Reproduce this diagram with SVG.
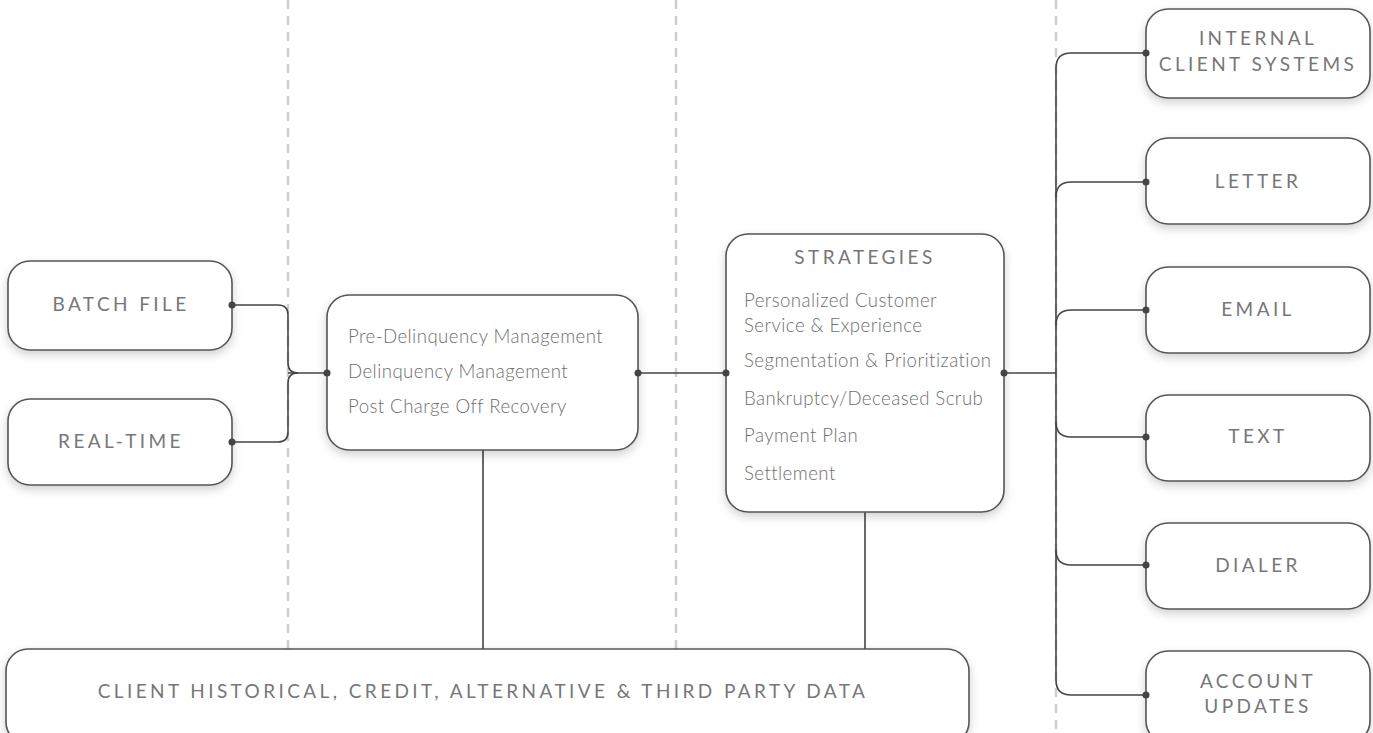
<svg xmlns="http://www.w3.org/2000/svg" width="1373" height="733" viewBox="0 0 1373 733">
  <defs>
    <filter id="shadow" x="-10%" y="-20%" width="120%" height="150%">
      <feDropShadow dx="0" dy="4" stdDeviation="5" flood-color="#000" flood-opacity="0.18"/>
    </filter>
    <style>
      .box { fill: #fff; stroke: #555; stroke-width: 1.6; filter: url(#shadow); }
      .lane { stroke: #cfcfcf; stroke-width: 2.5; stroke-dasharray: 9 7; fill: none; }
      .wire { stroke: #444; stroke-width: 1.6; fill: none; }
      .dot { fill: #444; }
      .cap { font-family: Lato, "Open Sans", sans-serif; font-size: 19px; letter-spacing: 3.4px; fill: #777; text-anchor: middle; }
      .body { font-family: Lato, "Open Sans", sans-serif; font-size: 18.6px; letter-spacing: 0.45px; font-weight: 300; fill: #6e6e6e; }
    </style>
  </defs>

  <rect width="1373" height="733" fill="#fff"/>

  <!-- swim-lane separators -->
  <g id="lanes">
    <line class="lane" x1="288" y1="0" x2="288" y2="733"/>
    <line class="lane" x1="676" y1="0" x2="676" y2="733"/>
    <line class="lane" x1="1056" y1="0" x2="1056" y2="733"/>
  </g>

  <!-- connectors -->
  <g id="connectors">
    <path class="wire" d="M232,305 H278 Q288,305 288,315 V363 Q288,373 298,373"/>
    <path class="wire" d="M232,442 H278 Q288,442 288,432 V383 Q288,373 298,373"/>
    <path class="wire" d="M288,373 H327"/>
    <path class="wire" d="M638,373 H726"/>
    <path class="wire" d="M483,450 V650"/>
    <path class="wire" d="M865,512 V650"/>
    <path class="wire" d="M1004,373 H1056"/>
    <path class="wire" d="M1146,53 H1071 Q1056,53 1056,68 V680 Q1056,695 1071,695 H1146"/>
    <path class="wire" d="M1056,197 Q1056,182 1071,182 H1146"/>
    <path class="wire" d="M1056,325 Q1056,310 1071,310 H1146"/>
    <path class="wire" d="M1056,422 Q1056,437 1071,437 H1146"/>
    <path class="wire" d="M1056,550 Q1056,565 1071,565 H1146"/>
  </g>

  <g id="batch-file">
    <rect class="box" x="8" y="261" width="224" height="89" rx="22"/>
    <text class="cap" x="121" y="311">BATCH FILE</text>
  </g>

  <g id="real-time">
    <rect class="box" x="8" y="399" width="224" height="86" rx="22"/>
    <text class="cap" x="121" y="448">REAL-TIME</text>
  </g>

  <g id="management">
    <rect class="box" x="327" y="295" width="311" height="155" rx="22"/>
    <text class="body" x="348" y="343">Pre-Delinquency Management</text>
    <text class="body" x="348" y="378">Delinquency Management</text>
    <text class="body" x="348" y="413">Post Charge Off Recovery</text>
  </g>

  <g id="strategies">
    <rect class="box" x="726" y="234" width="278" height="278" rx="22"/>
    <text class="cap" x="865" y="264">STRATEGIES</text>
    <text class="body" x="744" y="307">Personalized Customer</text>
    <text class="body" x="744" y="332">Service &amp; Experience</text>
    <text class="body" x="744" y="367">Segmentation &amp; Prioritization</text>
    <text class="body" x="744" y="405">Bankruptcy/Deceased Scrub</text>
    <text class="body" x="744" y="442">Payment Plan</text>
    <text class="body" x="744" y="480">Settlement</text>
  </g>

  <g id="client-data">
    <rect class="box" x="6" y="649" width="963" height="95" rx="22"/>
    <text class="cap" x="483" y="698">CLIENT HISTORICAL, CREDIT, ALTERNATIVE &amp; THIRD PARTY DATA</text>
  </g>

  <g id="internal-client-systems">
    <rect class="box" x="1146" y="9" width="224" height="89" rx="22"/>
    <text class="cap" x="1258" y="45">INTERNAL</text>
    <text class="cap" x="1258" y="71">CLIENT SYSTEMS</text>
  </g>

  <g id="letter">
    <rect class="box" x="1146" y="138" width="224" height="86" rx="22"/>
    <text class="cap" x="1258" y="188">LETTER</text>
  </g>

  <g id="email">
    <rect class="box" x="1146" y="267" width="224" height="86" rx="22"/>
    <text class="cap" x="1258" y="316">EMAIL</text>
  </g>

  <g id="text">
    <rect class="box" x="1146" y="395" width="224" height="86" rx="22"/>
    <text class="cap" x="1258" y="443">TEXT</text>
  </g>

  <g id="dialer">
    <rect class="box" x="1146" y="523" width="224" height="86" rx="22"/>
    <text class="cap" x="1258" y="572">DIALER</text>
  </g>

  <g id="account-updates">
    <rect class="box" x="1146" y="651" width="224" height="92" rx="22"/>
    <text class="cap" x="1258" y="688">ACCOUNT</text>
    <text class="cap" x="1258" y="713">UPDATES</text>
  </g>

  <!-- connection points -->
  <g id="ports">
    <circle class="dot" cx="232" cy="305" r="3.5"/>
    <circle class="dot" cx="232" cy="442" r="3.5"/>
    <circle class="dot" cx="327" cy="373" r="3.5"/>
    <circle class="dot" cx="638" cy="373" r="3.5"/>
    <circle class="dot" cx="726" cy="373" r="3.5"/>
    <circle class="dot" cx="1004" cy="373" r="3.5"/>
    <circle class="dot" cx="1146" cy="53" r="3.5"/>
    <circle class="dot" cx="1146" cy="182" r="3.5"/>
    <circle class="dot" cx="1146" cy="310" r="3.5"/>
    <circle class="dot" cx="1146" cy="437" r="3.5"/>
    <circle class="dot" cx="1146" cy="565" r="3.5"/>
    <circle class="dot" cx="1146" cy="695" r="3.5"/>
  </g>
</svg>
